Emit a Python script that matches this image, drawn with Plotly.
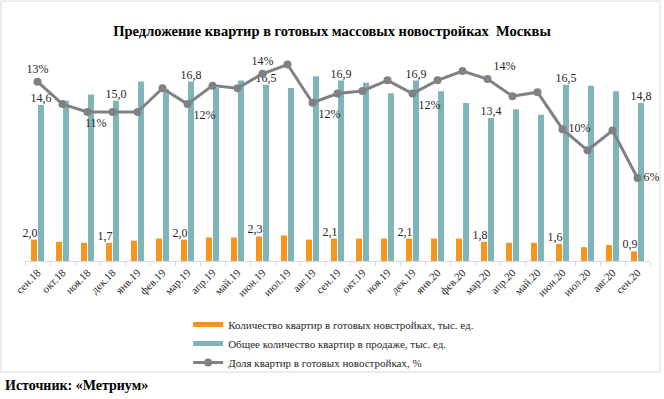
import plotly.graph_objects as go

months = ["сен.18", "окт.18", "ноя.18", "дек.18", "янв.19", "фев.19", "мар.19", "апр.19",
          "май.19", "июн.19", "июл.19", "авг.19", "сен.19", "окт.19", "ноя.19", "дек.19",
          "янв.20", "фев.20", "мар.20", "апр.20", "май.20", "июн.20", "июл.20", "авг.20", "сен.20"]
ready_flats = [2.0, 1.8, 1.7, 1.7, 1.9, 2.1, 2.0, 2.2, 2.2, 2.3, 2.4, 2.0, 2.1,
               2.1, 2.1, 2.1, 2.1, 2.1, 1.8, 1.7, 1.7, 1.6, 1.3, 1.5, 0.9]
total_flats = [14.6, 15.0, 15.6, 15.0, 16.8, 16.1, 16.8, 16.2, 16.9, 16.5, 16.2, 17.3, 16.9,
               16.7, 15.7, 16.9, 15.9, 14.8, 13.4, 14.2, 13.7, 16.5, 16.4, 15.9, 14.8]
share_pct = [13.4, 11.7, 11.1, 11.1, 11.1, 12.9, 11.7, 13.1, 12.9, 14.0, 14.7, 11.8, 12.5,
             12.7, 13.5, 12.5, 13.5, 14.2, 13.6, 12.3, 12.6, 9.8, 8.2, 9.7, 6.1]
labeled_idx = [0, 3, 6, 9, 12, 15, 18, 21, 24]
pct_label_pos = {0: "top center", 3: "bottom left", 6: "bottom right", 9: "top center",
                 11: "bottom right", 15: "bottom right", 18: "top right", 21: "middle right",
                 24: "middle right"}

name_ready = "Количество квартир в готовых новстройках, тыс. ед."
name_total = "Общее количество квартир в продаже, тыс. ед."
name_share = "Доля квартир в готовых новостройках, %"

ORANGE = "#F7941D"
TEAL = "#7EB5B9"
GRAY = "#808184"
FONT = "Liberation Serif"

def fmt(v):
    return f"{v:.1f}".replace(".", ",")

orange_text = [fmt(v) if i in labeled_idx else "" for i, v in enumerate(ready_flats)]
teal_text = [fmt(v) if i in labeled_idx else "" for i, v in enumerate(total_flats)]
pct_text = [f"{round(p)}%" if i in pct_label_pos else "" for i, p in enumerate(share_pct)]
pct_pos = [pct_label_pos.get(i, "top center") for i in range(len(share_pct))]

label_font = dict(family=FONT, size=12, color="#262626")

fig = go.Figure()
fig.add_trace(go.Bar(
    x=months, y=ready_flats, name=name_ready, showlegend=False,
    marker=dict(color=ORANGE, line=dict(width=0))))
fig.add_trace(go.Bar(
    x=months, y=total_flats, name=name_total, showlegend=False,
    marker=dict(color=TEAL, line=dict(width=0)), text=teal_text, textposition="outside",
    constraintext="none", textangle=0, textfont=label_font, cliponaxis=False))
# labels of the orange bars, drawn above the bars (left of the category centre)
fig.add_trace(go.Scatter(
    x=months, y=ready_flats, mode="text", text=orange_text, textposition="top left",
    textfont=label_font, showlegend=False, cliponaxis=False, hoverinfo="skip"))
# legend entries drawn as Excel-style flat rectangles
fig.add_trace(go.Scatter(x=[None], y=[None], mode="lines", name=name_ready,
                         line=dict(color=ORANGE, width=5)))
fig.add_trace(go.Scatter(x=[None], y=[None], mode="lines", name=name_total,
                         line=dict(color=TEAL, width=5)))
fig.add_trace(go.Scatter(
    x=months, y=share_pct, name=name_share, yaxis="y2",
    mode="lines+markers+text", line=dict(color=GRAY, width=3),
    marker=dict(color=GRAY, size=8), text=pct_text, textposition=pct_pos,
    textfont=label_font, cliponaxis=False))

fig.update_layout(
    width=664, height=399,
    margin=dict(l=25, r=14, t=50, b=138, autoexpand=False),
    paper_bgcolor="white", plot_bgcolor="white",
    barmode="group", bargap=0.44, bargroupgap=0.15,
    font=dict(family=FONT, size=11, color="#262626"),
    title=dict(text="<b>Предложение квартир в готовых массовых новостройках  Москвы</b>",
               x=0.5, xref="container", xanchor="center",
               y=(399 - 31) / 399, yref="container", yanchor="middle",
               font=dict(family=FONT, size=14.5, color="#000000")),
    xaxis=dict(showline=True, linecolor="#D9D9D9", linewidth=1, ticks="outside",
               tickson="boundaries", ticklen=4, tickcolor="#D9D9D9", tickangle=-45,
               tickfont=dict(family=FONT, size=11, color="#262626"), showgrid=False,
               automargin=False, range=[-0.5, len(months) - 0.5]),
    yaxis=dict(visible=False, range=[0, 211 / 10.68], showgrid=False),
    yaxis2=dict(visible=False, overlaying="y", range=[-0.19, 15.8], showgrid=False),
    showlegend=True,
    legend=dict(orientation="v", x=0.261, xanchor="left", y=-0.232, yanchor="top",
                font=dict(family=FONT, size=11, color="#262626"), tracegroupgap=0,
                bgcolor="rgba(0,0,0,0)"),
    shapes=[dict(type="rect", xref="paper", yref="paper",
                 x0=-0.0384, x1=1.016, y0=-0.526, y1=1.232,
                 line=dict(color="#D9D9D9", width=1), fillcolor="rgba(0,0,0,0)", layer="below")],
    annotations=[dict(text="<b>Источник: «Метриум»</b>", xref="paper", yref="paper",
                      x=-0.0352, y=-0.588, xanchor="left", yanchor="middle", showarrow=False,
                      font=dict(family=FONT, size=14, color="#000000"))],
)

fig.write_html("out.html", config={"displayModeBar": False},
               post_script="document.body.style.margin='0';")
